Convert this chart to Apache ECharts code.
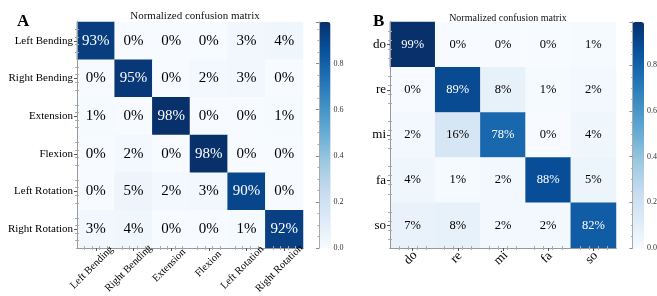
<!DOCTYPE html>
<html>
<head>
<meta charset="utf-8">
<script src="https://cdn.jsdelivr.net/npm/echarts@6/dist/echarts.min.js"></script>
<style>
html, body { margin: 0; padding: 0; background: #fff; }
#main { width: 657px; height: 296px; }
</style>
</head>
<body>
<div id="main"></div>
<script>
// panel A: motions
const motionLabels = ["Left Bending", "Right Bending", "Extension", "Flexion", "Left Rotation", "Right Rotation"];
const motionValues = [
  [93, 0, 0, 0, 3, 4],
  [0, 95, 0, 2, 3, 0],
  [1, 0, 98, 0, 0, 1],
  [0, 2, 0, 98, 0, 0],
  [0, 5, 2, 3, 90, 0],
  [3, 4, 0, 0, 1, 92]
];
// panel B: notes
const noteLabels = ["do", "re", "mi", "fa", "so"];
const noteValues = [
  [99, 0, 0, 0, 1],
  [0, 89, 8, 1, 2],
  [2, 16, 78, 0, 4],
  [4, 1, 2, 88, 5],
  [7, 8, 2, 2, 82]
];
const colorbarTicks = [0.0, 0.2, 0.4, 0.6, 0.8];

const FONT = '"Liberation Serif", "Times New Roman", serif';
const blues = ["#f7fbff", "#deebf7", "#c6dbef", "#9ecae1", "#6baed6", "#4292c6", "#2171b5", "#08519c", "#08306b"];

const ctx = document.createElement("canvas").getContext("2d");
function textW(s, size) {
  ctx.font = size + "px " + FONT;
  return ctx.measureText(s).width;
}

function maxOf(m) {
  let mx = 0;
  m.forEach(r => r.forEach(v => { if (v > mx) mx = v; }));
  return mx / 100;
}

function cells(m) {
  const vmax = maxOf(m);
  const out = [];
  m.forEach((row, i) => {
    row.forEach((v, j) => {
      out.push({
        value: [j, i, v / 100],
        label: { color: v / 100 > vmax / 2 ? "#fff" : "#000" }
      });
    });
  });
  return out;
}

// rotated labels centred under the tick (like matplotlib ha=center)
function rotLabels(labels, size, extra) {
  return labels.map(s => {
    const w = textW(s, size);
    return { value: s, textStyle: { padding: [0, -w * 0.29 - extra, 0, 0] } };
  });
}

function frameAxes(gi, n) {
  // value axes used only for frame lines and small inner ticks
  const common = {
    gridIndex: gi, type: "value", min: 0, max: n, interval: 1, z: 10,
    axisLine: { show: true, lineStyle: { color: "#999", width: 1 } },
    axisTick: { show: false, inside: true },
    minorTick: { show: true, splitNumber: 5, length: 2, lineStyle: { color: "#aaa" } },
    axisLabel: { show: false },
    splitLine: { show: false }
  };
  return {
    x: [Object.assign({ position: "top" }, common), Object.assign({ position: "bottom" }, common)],
    y: [Object.assign({ position: "right" }, common), Object.assign({ position: "left" }, common)]
  };
}

const fa = frameAxes(0, 6);
const fb = frameAxes(1, 5);

function cbarAxes(gi, vmax) {
  return {
    x: { gridIndex: gi, type: "value", show: false, min: 0, max: 1 },
    y: [{
      gridIndex: gi, type: "value", position: "right", min: 0, max: vmax, interval: 0.2, z: 10,
      axisLine: { show: true, lineStyle: { color: "#aaa" } },
      axisTick: { show: true, inside: true, length: 3, lineStyle: { color: "#888" } },
      minorTick: { show: true, splitNumber: 4, length: 1.5, lineStyle: { color: "#aaa" } },
      axisLabel: {
        margin: 3, fontSize: 8, color: "#333", fontFamily: FONT,
        formatter: v => colorbarTicks.some(t => Math.abs(t - v) < 1e-6) ? v.toFixed(1) : ""
      },
      splitLine: { show: false }
    }, {
      gridIndex: gi, type: "value", position: "left", min: 0, max: vmax, z: 10,
      axisLine: { show: true, lineStyle: { color: "#aaa" } },
      axisTick: { show: false }, axisLabel: { show: false }, splitLine: { show: false }
    }]
  };
}
const ca = cbarAxes(2, maxOf(motionValues));
const cb = cbarAxes(3, maxOf(noteValues));

const chart = echarts.init(document.getElementById("main"));
const option = {
  animation: false,
  title: [
    { text: "A", left: 12, top: 8, textStyle: { fontFamily: FONT, fontSize: 17, fontWeight: "bold", color: "#000" } },
    { text: "B", left: 368, top: 8, textStyle: { fontFamily: FONT, fontSize: 17, fontWeight: "bold", color: "#000" } },
    { text: "Normalized confusion matrix", left: 190, top: 6, textAlign: "center",
      textStyle: { fontFamily: FONT, fontSize: 11, fontWeight: "normal", color: "#111" } },
    { text: "Normalized confusion matrix", left: 503, top: 8, textAlign: "center",
      textStyle: { fontFamily: FONT, fontSize: 10, fontWeight: "normal", color: "#111" } }
  ],
  grid: [
    { left: 77, top: 22, width: 226, height: 226, outerBoundsMode: "none" },
    { left: 390, top: 22, width: 226, height: 226, outerBoundsMode: "none" },
    { left: 319, top: 22, width: 11.5, height: 226, outerBoundsMode: "none" },
    { left: 632.5, top: 22, width: 11.5, height: 226, outerBoundsMode: "none" }
  ],
  xAxis: [
    {
      gridIndex: 0, type: "category", data: rotLabels(motionLabels, 10.5, 6), z: 10,
      axisLine: { show: true, lineStyle: { color: "#999" } },
      axisTick: { show: true, alignWithLabel: true, length: 3, lineStyle: { color: "#555" } },
      axisLabel: { rotate: 45, margin: 15.5, fontSize: 10.5, color: "#000", fontFamily: FONT, interval: 0 },
      splitLine: { show: false }
    },
    {
      gridIndex: 1, type: "category", data: rotLabels(noteLabels, 13, 0), z: 10,
      axisLine: { show: true, lineStyle: { color: "#999" } },
      axisTick: { show: true, alignWithLabel: true, length: 3, lineStyle: { color: "#555" } },
      axisLabel: { rotate: 45, margin: 8, fontSize: 13, color: "#000", fontFamily: FONT, interval: 0 },
      splitLine: { show: false }
    },
    fa.x[0], fa.x[1], fb.x[0], fb.x[1], ca.x, cb.x
  ],
  yAxis: [
    {
      gridIndex: 0, type: "category", data: motionLabels, inverse: true, z: 10,
      axisLine: { show: true, lineStyle: { color: "#999" } },
      axisTick: { show: true, alignWithLabel: true, length: 3, lineStyle: { color: "#555" } },
      axisLabel: { margin: 4, fontSize: 11, color: "#000", fontFamily: FONT },
      splitLine: { show: false }
    },
    {
      gridIndex: 1, type: "category", data: noteLabels, inverse: true, z: 10,
      axisLine: { show: true, lineStyle: { color: "#999" } },
      axisTick: { show: true, alignWithLabel: true, length: 3, lineStyle: { color: "#555" } },
      axisLabel: { margin: 4, fontSize: 13, color: "#000", fontFamily: FONT },
      splitLine: { show: false }
    },
    fa.y[0], fa.y[1], fb.y[0], fb.y[1], ca.y[0], ca.y[1], cb.y[0], cb.y[1]
  ],
  visualMap: [
    {
      type: "continuous", seriesIndex: 0, min: 0, max: maxOf(motionValues),
      left: 319, top: 22, itemWidth: 11.5, itemHeight: 226, padding: 0,
      calculable: false, hoverLink: false, text: null, showLabel: false,
      inRange: { color: blues }
    },
    {
      type: "continuous", seriesIndex: 1, min: 0, max: maxOf(noteValues),
      left: 632.5, top: 22, itemWidth: 11.5, itemHeight: 226, padding: 0,
      calculable: false, hoverLink: false, text: null, showLabel: false,
      inRange: { color: blues }
    }
  ],
  series: [
    {
      type: "heatmap", xAxisIndex: 0, yAxisIndex: 0, data: cells(motionValues),
      label: { show: true, fontSize: 15, fontFamily: FONT, formatter: p => Math.round(p.value[2] * 100) + "%" },
      emphasis: { disabled: true }
    },
    {
      type: "heatmap", xAxisIndex: 1, yAxisIndex: 1, data: cells(noteValues),
      label: { show: true, fontSize: 12.5, fontFamily: FONT, formatter: p => Math.round(p.value[2] * 100) + "%" },
      emphasis: { disabled: true }
    }
  ]
};
chart.setOption(option);
</script>
</body>
</html>
